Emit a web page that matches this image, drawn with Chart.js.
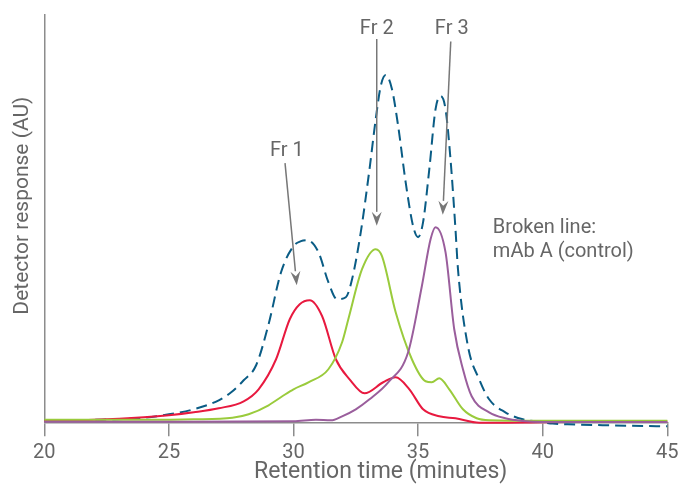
<!DOCTYPE html>
<html>
<head>
<meta charset="utf-8">
<script src="https://cdn.jsdelivr.net/npm/chart.js@4.4.1/dist/chart.umd.min.js"></script>
<style>
html,body{margin:0;padding:0;background:#fff;}
canvas{display:block;}
</style>
</head>
<body>
<canvas id="c" width="678" height="490"></canvas>
<script>
// ---- data (x: retention time in minutes, y: detector response, arbitrary units) ----
const controlTime = [20,21,22,23,24,25,26,27,27.5,28,28.5,29,29.5,30,30.3,30.55,31,31.4,31.75,32.1,32.35,32.7,33.05,33.3,33.5,33.7,33.95,34.2,34.5,34.8,35.0,35.2,35.45,35.7,35.9,36.1,36.3,36.5,36.6,37.0,37.45,37.85,38.5,39.2,40,40.4,41,42.6,45];
const controlResp = [2,2,2.5,3,4.5,8,13,22,30,42,57,98,150,176,181,182,170,140,123,125,143,190,253,303,336,347,333,296,240,196,185,200,253,313,326,313,263,193,153,76,43,23,10,3,0,-1.3,-2,-3,-4];

const fr1Time = [20,22,24,25,26,27,28,28.6,29.3,29.85,30.25,30.65,31.15,31.7,32.25,32.85,33.6,34.1,34.65,35.2,35.85,36.5,37.45,38,40,45];
const fr1Resp = [1.5,2.5,5,7,10,14,21,33,63,103,118,122,106,63,43,29,40,45,33,13,6,4,-0.5,-0.5,0,1];

const fr2Time = [20,24,26,27.55,28.2,29,29.55,30,30.6,31.4,31.95,32.2,32.75,33.3,33.55,34.1,34.75,35.3,35.55,35.85,36.25,36.8,37.35,37.85,40,45];
const fr2Resp = [2.5,2.5,3,4.5,8,17,26,33,40,53,80,103,153,173,166,110,63,41,40,44,33,13,4,2,1.5,1.5];

const fr3Time = [20,25,30,30.9,31.5,31.95,32.5,33.05,33.8,34.6,35.15,35.5,35.7,36.1,36.45,36.8,37.15,37.85,38.5,39.2,40,45];
const fr3Resp = [0.5,0.5,1,2.5,2,6,13,23,40,70,136,183,195,170,93,53,26,10,4,1.3,0.3,0.3];

const xTicks = [20,25,30,35,40,45];

// annotation labels and arrows, in data units
const annLabels = ["Fr 1","Fr 2","Fr 3"];
const annLabelX = [29.73,33.34,36.35];
const annLabelY = [271,392.6,392.6];
const arrowFromX = [29.66,33.34,36.31];
const arrowFromY = [259,383,380.6];
const arrowToX   = [30.13,33.34,35.99];
const arrowToY   = [137,196.3,207.3];
const noteLines = ["Broken line:","mAb A (control)"];
const noteX = 38.0;
const noteY = [194,170];

const xTitle = "Retention time (minutes)";
const xTitleAt = 33.5;
const yTitle = "Detector response (AU)";

const toXY = (xs, ys) => xs.map((x,i)=>({x:x, y:ys[i]}));

const FONT = "Roboto, 'Liberation Sans', sans-serif";
const TEXT = "#666666";
const AXIS = "#8c8c8c";

const overlay = {
  id:'overlay',
  afterDraw(chart){
    const ctx = chart.ctx, xs = chart.scales.x, ys = chart.scales.y;
    ctx.save();
    ctx.fillStyle = TEXT;
    ctx.textAlign = 'center';
    ctx.textBaseline = 'middle';
    // axis titles
    ctx.font = "23px " + FONT;
    ctx.fillText(xTitle, xs.getPixelForValue(xTitleAt), 472);
    ctx.font = "21px " + FONT;
    ctx.save();
    ctx.translate(23, (ys.top + ys.bottom)/2 - 13);
    ctx.rotate(-Math.PI/2);
    ctx.fillText(yTitle, 0, 0);
    ctx.restore();
    // fraction labels
    ctx.font = "20px " + FONT;
    annLabels.forEach((t,i)=>{
      ctx.fillText(t, xs.getPixelForValue(annLabelX[i]), ys.getPixelForValue(annLabelY[i]));
    });
    // note
    ctx.textAlign = 'left';
    noteLines.forEach((t,i)=>{
      ctx.fillText(t, xs.getPixelForValue(noteX), ys.getPixelForValue(noteY[i]));
    });
    // arrows
    ctx.strokeStyle = "#777777";
    ctx.fillStyle = "#777777";
    ctx.lineWidth = 1.5;
    for (let i=0;i<arrowFromX.length;i++){
      const x1 = xs.getPixelForValue(arrowFromX[i]), y1 = ys.getPixelForValue(arrowFromY[i]);
      const x2 = xs.getPixelForValue(arrowToX[i]), y2 = ys.getPixelForValue(arrowToY[i]);
      const ang = Math.atan2(y2-y1, x2-x1);
      const L = 14, W = 5;
      const bx = x2 - L*Math.cos(ang), by = y2 - L*Math.sin(ang);
      ctx.beginPath();
      ctx.moveTo(x1,y1); ctx.lineTo(bx,by); ctx.stroke();
      ctx.beginPath();
      ctx.moveTo(x2,y2);
      ctx.lineTo(bx + W*Math.sin(ang), by - W*Math.cos(ang));
      ctx.lineTo(bx + 0.35*L*Math.cos(ang), by + 0.35*L*Math.sin(ang));
      ctx.lineTo(bx - W*Math.sin(ang), by + W*Math.cos(ang));
      ctx.closePath();
      ctx.fill();
    }
    ctx.restore();
  }
};

const common = {fill:false, pointRadius:0, cubicInterpolationMode:'monotone', borderWidth:2, clip:false};

new Chart(document.getElementById('c'), {
  type:'line',
  data:{
    datasets:[
      Object.assign({label:'Fr 3', data:toXY(fr3Time, fr3Resp), borderColor:'#9a5e9c'}, common),
      Object.assign({label:'Fr 2', data:toXY(fr2Time, fr2Resp), borderColor:'#9acb3c'}, common),
      Object.assign({label:'Fr 1', data:toXY(fr1Time, fr1Resp), borderColor:'#e8193f'}, common),
      Object.assign({label:'mAb A (control)', data:toXY(controlTime, controlResp), borderColor:'#0a5c85', borderDash:[11,6], borderWidth:2.2}, common)
    ]
  },
  options:{
    responsive:false,
    animation:false,
    events:[],
    layout:{padding:{top:15, right:10.7, left:0, bottom:0}},
    plugins:{legend:{display:false}, tooltip:{enabled:false}, title:{display:false}},
    scales:{
      x:{
        type:'linear', min:20, max:45,
        afterBuildTicks(scale){ scale.ticks = xTicks.map(v=>({value:v})); },
        ticks:{color:TEXT, font:{family:FONT, size:20}, padding:5, maxRotation:0},
        grid:{display:true, drawOnChartArea:false, drawTicks:true, tickLength:14, color:AXIS, lineWidth:1.5},
        border:{display:true, color:AXIS, width:1.5},
        afterFit(scale){ scale.height = 490 - 422.3; scale.paddingRight = 0; scale.paddingLeft = 0; }
      },
      y:{
        type:'linear', min:0, max:407,
        ticks:{display:false},
        grid:{display:true, drawOnChartArea:false, drawTicks:false},
        border:{display:true, color:AXIS, width:1.5},
        afterFit(scale){ scale.width = 44.3; }
      }
    }
  },
  plugins:[overlay]
});
</script>
</body>
</html>
